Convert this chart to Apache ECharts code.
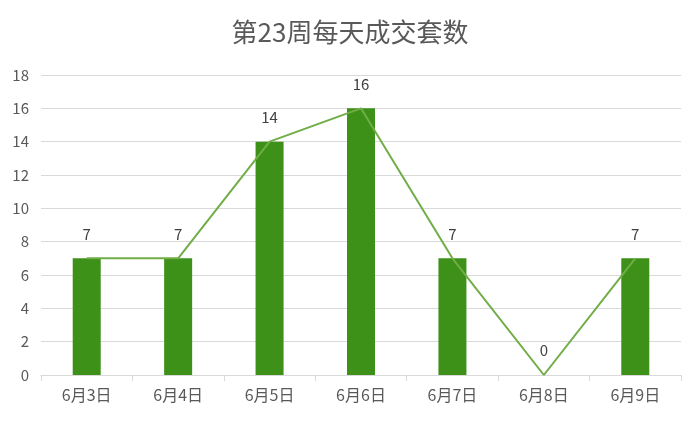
<!DOCTYPE html>
<html>
<head>
<meta charset="utf-8">
<script src="https://cdn.jsdelivr.net/npm/echarts@6/dist/echarts.min.js"></script>
<style>
html,body{margin:0;padding:0;background:#fff;}
#chart{width:700px;height:424px;}
</style>
</head>
<body>
<div id="chart"></div>
<script>
// Daily closed deals for week 23
const titleText = '第23周每天成交套数';
const days = ['6月3日', '6月4日', '6月5日', '6月6日', '6月7日', '6月8日', '6月9日'];
const deals = [7, 7, 14, 16, 7, 0, 7];
const yMin = 0, yMax = 18, yStep = 2;

const chart = echarts.init(document.getElementById('chart'));
const font = '"Microsoft YaHei", "Noto Sans CJK SC", sans-serif';
chart.setOption({
  backgroundColor: '#ffffff',
  animation: false,
  title: {
    text: titleText,
    left: 'center',
    top: 14,
    textStyle: { fontFamily: font, fontSize: 26, fontWeight: 'normal', color: '#595959' }
  },
  grid: { left: 41, right: 19, top: 75, bottom: 49, containLabel: false },
  xAxis: {
    type: 'category',
    data: days,
    axisLine: { lineStyle: { color: '#d9d9d9', width: 1 } },
    axisTick: { show: true, length: 6, lineStyle: { color: '#d9d9d9' } },
    axisLabel: { fontFamily: font, fontSize: 16, color: '#595959', margin: 12 }
  },
  yAxis: {
    type: 'value',
    min: yMin, max: yMax, interval: yStep,
    axisLine: { show: false },
    axisTick: { show: false },
    axisLabel: { fontFamily: font, fontSize: 15, color: '#595959', margin: 12 },
    splitLine: { lineStyle: { color: '#d9d9d9', width: 1 } }
  },
  series: [
    {
      type: 'bar',
      data: deals,
      barWidth: 28,
      itemStyle: { color: '#3d9119' },
      label: {
        show: true, position: 'top', distance: 17,
        fontFamily: font, fontSize: 15, color: '#404040'
      },
      z: 2
    },
    {
      type: 'line',
      data: deals,
      symbol: 'none',
      lineStyle: { color: '#70ad47', width: 2 },
      z: 3
    }
  ]
});
</script>
</body>
</html>
